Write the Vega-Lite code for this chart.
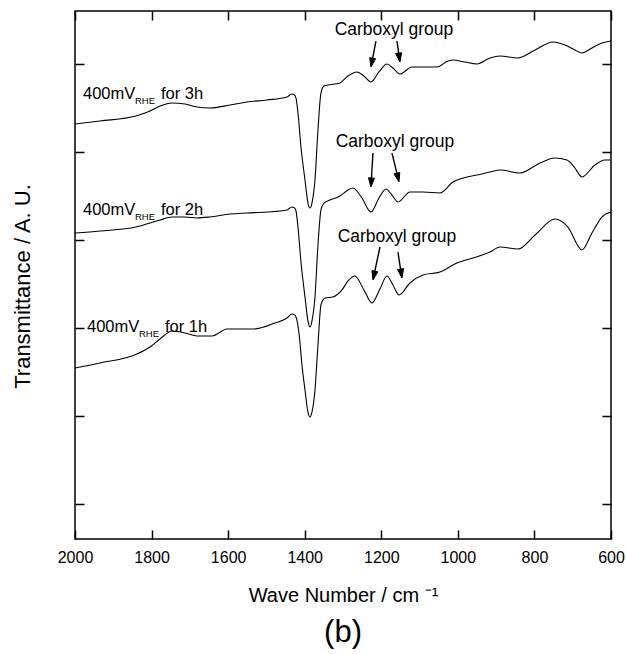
{
  "$schema": "https://vega.github.io/schema/vega-lite/v6.json",
  "width": 536,
  "height": 528,
  "autosize": {"type": "none"},
  "padding": {"left": 75, "top": 11, "right": 15, "bottom": 115},
  "background": "white",
  "config": {
    "view": {"stroke": "black", "strokeWidth": 1.5},
    "font": "Liberation Sans",
    "axis": {"domain": false, "grid": false, "tickColor": "black", "tickWidth": 1.5, "labelFont": "Liberation Sans", "labelFontSize": 16, "labelColor": "black", "titleFont": "Liberation Sans", "titleFontSize": 20, "titleFontWeight": "normal", "titleColor": "black", "labelFlush": false, "labelOverlap": false}
  },
  "title": {"text": "(b)", "orient": "bottom", "fontSize": 31, "fontWeight": "normal", "font": "Liberation Sans", "color": "black", "offset": 13, "anchor": "middle"},
  "datasets": {
    "curves": [
      {"series": "3h", "wn": 2000.0, "val": 4.716}, {"series": "3h", "wn": 1934.7, "val": 4.750}, {"series": "3h", "wn": 1840.7, "val": 4.807}, {"series": "3h", "wn": 1804.1, "val": 4.864}, {"series": "3h", "wn": 1778.0, "val": 4.920}, {"series": "3h", "wn": 1746.7, "val": 4.955}, {"series": "3h", "wn": 1712.7, "val": 4.943}, {"series": "3h", "wn": 1681.4, "val": 4.909}, {"series": "3h", "wn": 1647.4, "val": 4.898}, {"series": "3h", "wn": 1595.2, "val": 4.932}, {"series": "3h", "wn": 1550.8, "val": 4.966}, {"series": "3h", "wn": 1498.6, "val": 4.989}, {"series": "3h", "wn": 1446.3, "val": 5.023}, {"series": "3h", "wn": 1433.3, "val": 5.057}, {"series": "3h", "wn": 1428.1, "val": 5.051}, {"series": "3h", "wn": 1422.8, "val": 5.011}, {"series": "3h", "wn": 1417.6, "val": 4.841}, {"series": "3h", "wn": 1409.8, "val": 4.455}, {"series": "3h", "wn": 1399.3, "val": 4.080}, {"series": "3h", "wn": 1391.5, "val": 3.818}, {"series": "3h", "wn": 1386.3, "val": 3.761}, {"series": "3h", "wn": 1381.1, "val": 3.818}, {"series": "3h", "wn": 1373.2, "val": 4.080}, {"series": "3h", "wn": 1365.4, "val": 4.648}, {"series": "3h", "wn": 1357.6, "val": 5.068}, {"series": "3h", "wn": 1349.7, "val": 5.148}, {"series": "3h", "wn": 1339.3, "val": 5.159}, {"series": "3h", "wn": 1321.0, "val": 5.170}, {"series": "3h", "wn": 1308.0, "val": 5.182}, {"series": "3h", "wn": 1287.0, "val": 5.261}, {"series": "3h", "wn": 1263.5, "val": 5.307}, {"series": "3h", "wn": 1245.3, "val": 5.261}, {"series": "3h", "wn": 1227.0, "val": 5.193}, {"series": "3h", "wn": 1206.1, "val": 5.307}, {"series": "3h", "wn": 1185.2, "val": 5.398}, {"series": "3h", "wn": 1169.5, "val": 5.352}, {"series": "3h", "wn": 1151.2, "val": 5.284}, {"series": "3h", "wn": 1119.9, "val": 5.364}, {"series": "3h", "wn": 1091.1, "val": 5.364}, {"series": "3h", "wn": 1054.6, "val": 5.364}, {"series": "3h", "wn": 1025.9, "val": 5.432}, {"series": "3h", "wn": 1012.8, "val": 5.443}, {"series": "3h", "wn": 981.5, "val": 5.420}, {"series": "3h", "wn": 950.1, "val": 5.398}, {"series": "3h", "wn": 916.2, "val": 5.466}, {"series": "3h", "wn": 890.1, "val": 5.489}, {"series": "3h", "wn": 843.1, "val": 5.466}, {"series": "3h", "wn": 798.5, "val": 5.557}, {"series": "3h", "wn": 751.6, "val": 5.648}, {"series": "3h", "wn": 720.3, "val": 5.614}, {"series": "3h", "wn": 694.2, "val": 5.557}, {"series": "3h", "wn": 675.9, "val": 5.523}, {"series": "3h", "wn": 649.8, "val": 5.580}, {"series": "3h", "wn": 623.7, "val": 5.636}, {"series": "3h", "wn": 600.0, "val": 5.659},
      {"series": "2h", "wn": 2000.0, "val": 3.477}, {"series": "2h", "wn": 1934.7, "val": 3.500}, {"series": "2h", "wn": 1840.7, "val": 3.545}, {"series": "2h", "wn": 1804.1, "val": 3.591}, {"series": "2h", "wn": 1778.0, "val": 3.625}, {"series": "2h", "wn": 1746.7, "val": 3.659}, {"series": "2h", "wn": 1712.7, "val": 3.659}, {"series": "2h", "wn": 1681.4, "val": 3.648}, {"series": "2h", "wn": 1647.4, "val": 3.659}, {"series": "2h", "wn": 1595.2, "val": 3.693}, {"series": "2h", "wn": 1550.8, "val": 3.705}, {"series": "2h", "wn": 1498.6, "val": 3.716}, {"series": "2h", "wn": 1446.3, "val": 3.739}, {"series": "2h", "wn": 1433.3, "val": 3.773}, {"series": "2h", "wn": 1428.1, "val": 3.767}, {"series": "2h", "wn": 1422.8, "val": 3.727}, {"series": "2h", "wn": 1417.6, "val": 3.545}, {"series": "2h", "wn": 1409.8, "val": 3.148}, {"series": "2h", "wn": 1399.3, "val": 2.750}, {"series": "2h", "wn": 1391.5, "val": 2.477}, {"series": "2h", "wn": 1386.3, "val": 2.409}, {"series": "2h", "wn": 1381.1, "val": 2.477}, {"series": "2h", "wn": 1373.2, "val": 2.750}, {"series": "2h", "wn": 1365.4, "val": 3.341}, {"series": "2h", "wn": 1357.6, "val": 3.739}, {"series": "2h", "wn": 1349.7, "val": 3.818}, {"series": "2h", "wn": 1334.1, "val": 3.852}, {"series": "2h", "wn": 1308.0, "val": 3.898}, {"series": "2h", "wn": 1287.0, "val": 3.966}, {"series": "2h", "wn": 1274.0, "val": 3.989}, {"series": "2h", "wn": 1250.5, "val": 3.875}, {"series": "2h", "wn": 1227.0, "val": 3.716}, {"series": "2h", "wn": 1206.1, "val": 3.875}, {"series": "2h", "wn": 1187.8, "val": 3.977}, {"series": "2h", "wn": 1172.1, "val": 3.909}, {"series": "2h", "wn": 1156.5, "val": 3.830}, {"series": "2h", "wn": 1125.1, "val": 3.943}, {"series": "2h", "wn": 1091.1, "val": 3.943}, {"series": "2h", "wn": 1046.7, "val": 3.932}, {"series": "2h", "wn": 1012.8, "val": 4.057}, {"series": "2h", "wn": 976.2, "val": 4.114}, {"series": "2h", "wn": 950.1, "val": 4.136}, {"series": "2h", "wn": 916.2, "val": 4.170}, {"series": "2h", "wn": 890.1, "val": 4.193}, {"series": "2h", "wn": 837.8, "val": 4.159}, {"series": "2h", "wn": 785.6, "val": 4.273}, {"series": "2h", "wn": 746.4, "val": 4.330}, {"series": "2h", "wn": 715.1, "val": 4.307}, {"series": "2h", "wn": 694.2, "val": 4.216}, {"series": "2h", "wn": 675.9, "val": 4.114}, {"series": "2h", "wn": 642.0, "val": 4.250}, {"series": "2h", "wn": 615.9, "val": 4.307}, {"series": "2h", "wn": 600.0, "val": 4.307},
      {"series": "1h", "wn": 2000.0, "val": 1.943}, {"series": "1h", "wn": 1934.7, "val": 2.000}, {"series": "1h", "wn": 1838.1, "val": 2.102}, {"series": "1h", "wn": 1804.1, "val": 2.182}, {"series": "1h", "wn": 1778.0, "val": 2.273}, {"series": "1h", "wn": 1746.7, "val": 2.364}, {"series": "1h", "wn": 1712.7, "val": 2.341}, {"series": "1h", "wn": 1681.4, "val": 2.307}, {"series": "1h", "wn": 1642.2, "val": 2.307}, {"series": "1h", "wn": 1603.0, "val": 2.386}, {"series": "1h", "wn": 1535.1, "val": 2.386}, {"series": "1h", "wn": 1477.7, "val": 2.455}, {"series": "1h", "wn": 1446.3, "val": 2.511}, {"series": "1h", "wn": 1433.3, "val": 2.557}, {"series": "1h", "wn": 1428.1, "val": 2.551}, {"series": "1h", "wn": 1422.8, "val": 2.523}, {"series": "1h", "wn": 1415.0, "val": 2.341}, {"series": "1h", "wn": 1407.2, "val": 1.977}, {"series": "1h", "wn": 1399.3, "val": 1.693}, {"series": "1h", "wn": 1391.5, "val": 1.443}, {"series": "1h", "wn": 1386.3, "val": 1.386}, {"series": "1h", "wn": 1381.1, "val": 1.443}, {"series": "1h", "wn": 1373.2, "val": 1.693}, {"series": "1h", "wn": 1365.4, "val": 2.205}, {"series": "1h", "wn": 1357.6, "val": 2.659}, {"series": "1h", "wn": 1347.1, "val": 2.739}, {"series": "1h", "wn": 1326.4, "val": 2.750}, {"series": "1h", "wn": 1302.7, "val": 2.830}, {"series": "1h", "wn": 1287.0, "val": 2.932}, {"series": "1h", "wn": 1268.8, "val": 2.989}, {"series": "1h", "wn": 1245.3, "val": 2.830}, {"series": "1h", "wn": 1224.4, "val": 2.682}, {"series": "1h", "wn": 1203.5, "val": 2.841}, {"series": "1h", "wn": 1185.2, "val": 2.989}, {"series": "1h", "wn": 1169.5, "val": 2.886}, {"series": "1h", "wn": 1153.8, "val": 2.773}, {"series": "1h", "wn": 1125.1, "val": 2.909}, {"series": "1h", "wn": 1091.1, "val": 3.000}, {"series": "1h", "wn": 1046.7, "val": 3.034}, {"series": "1h", "wn": 1002.3, "val": 3.136}, {"series": "1h", "wn": 960.6, "val": 3.193}, {"series": "1h", "wn": 916.2, "val": 3.261}, {"series": "1h", "wn": 890.1, "val": 3.318}, {"series": "1h", "wn": 843.1, "val": 3.295}, {"series": "1h", "wn": 798.5, "val": 3.455}, {"series": "1h", "wn": 746.4, "val": 3.636}, {"series": "1h", "wn": 712.5, "val": 3.545}, {"series": "1h", "wn": 675.9, "val": 3.284}, {"series": "1h", "wn": 649.8, "val": 3.477}, {"series": "1h", "wn": 623.7, "val": 3.659}, {"series": "1h", "wn": 600.0, "val": 3.716}
    ],
    "labels": [
      {"kind": "main", "wn": 1979.1, "val": 5.0, "text": "400mV"},
      {"kind": "sub", "wn": 1843.3, "val": 4.943, "text": "RHE"},
      {"kind": "main", "wn": 1775.4, "val": 5.0, "text": "for 3h"},
      {"kind": "main", "wn": 1979.1, "val": 3.682, "text": "400mV"},
      {"kind": "sub", "wn": 1843.3, "val": 3.625, "text": "RHE"},
      {"kind": "main", "wn": 1775.4, "val": 3.682, "text": "for 2h"},
      {"kind": "main", "wn": 1968.7, "val": 2.352, "text": "400mV"},
      {"kind": "sub", "wn": 1832.9, "val": 2.295, "text": "RHE"},
      {"kind": "main", "wn": 1764.9, "val": 2.352, "text": "for 1h"}
    ],
    "carboxyl": [
      {"wn": 1166.9, "val": 5.727, "text": "Carboxyl group"},
      {"wn": 1164.3, "val": 4.455, "text": "Carboxyl group"},
      {"wn": 1159.0, "val": 3.375, "text": "Carboxyl group"}
    ],
    "shafts": [
      {"wn": 1213.9, "val": 5.659, "wn2": 1222.5, "val2": 5.464},
      {"wn": 1159.1, "val": 5.659, "wn2": 1154.6, "val2": 5.522},
      {"wn": 1221.7, "val": 4.386, "wn2": 1225.7, "val2": 4.102},
      {"wn": 1172.1, "val": 4.386, "wn2": 1159.3, "val2": 4.157},
      {"wn": 1203.5, "val": 3.318, "wn2": 1216.8, "val2": 3.043},
      {"wn": 1156.5, "val": 3.261, "wn2": 1149.7, "val2": 3.067}
    ],
    "heads": [
      {"arrow": "a1", "ord": 1, "wn": 1214.9, "val": 5.457}, {"arrow": "a1", "ord": 2, "wn": 1227.0, "val": 5.364}, {"arrow": "a1", "ord": 3, "wn": 1230.1, "val": 5.470},
      {"arrow": "a2", "ord": 1, "wn": 1146.8, "val": 5.526}, {"arrow": "a2", "ord": 2, "wn": 1151.2, "val": 5.420}, {"arrow": "a2", "ord": 3, "wn": 1162.5, "val": 5.517},
      {"arrow": "b1", "ord": 1, "wn": 1217.8, "val": 4.100}, {"arrow": "b1", "ord": 2, "wn": 1227.0, "val": 4.000}, {"arrow": "b1", "ord": 3, "wn": 1233.5, "val": 4.105},
      {"arrow": "b2", "ord": 1, "wn": 1151.7, "val": 4.165}, {"arrow": "b2", "ord": 2, "wn": 1153.8, "val": 4.057}, {"arrow": "b2", "ord": 3, "wn": 1166.9, "val": 4.149},
      {"arrow": "c1", "ord": 1, "wn": 1209.2, "val": 3.036}, {"arrow": "c1", "ord": 2, "wn": 1221.7, "val": 2.943}, {"arrow": "c1", "ord": 3, "wn": 1224.4, "val": 3.050},
      {"arrow": "c2", "ord": 1, "wn": 1141.8, "val": 3.073}, {"arrow": "c2", "ord": 2, "wn": 1146.0, "val": 2.966}, {"arrow": "c2", "ord": 3, "wn": 1157.5, "val": 3.061}
    ]
  },
  "layer": [
    {
      "data": {"name": "curves"},
      "mark": {"type": "line", "interpolate": "monotone", "color": "black", "strokeWidth": 1.1},
      "encoding": {
        "x": {"field": "wn", "type": "quantitative", "scale": {"domain": [600, 2000], "reverse": true, "nice": false, "zero": false},
              "axis": {"orient": "bottom", "values": [600, 800, 1000, 1200, 1400, 1600, 1800, 2000], "format": "d", "tickSize": -9, "labelPadding": 19, "title": "Wave Number / cm ⁻¹", "titlePadding": 20}},
        "y": {"field": "val", "type": "quantitative", "scale": {"domain": [0, 6], "nice": false, "zero": false},
              "axis": {"orient": "left", "values": [0.4, 1.4, 2.4, 3.4, 4.4, 5.4], "labels": false, "tickSize": -9, "title": "Transmittance / A. U.", "titleFontSize": 22, "titlePadding": 40, "titleY": 275}},
        "detail": {"field": "series"}
      }
    },
    {
      "data": {"name": "labels"},
      "transform": [{"filter": "datum.kind === 'main'"}],
      "mark": {"type": "text", "align": "left", "baseline": "alphabetic", "fontSize": 16.5, "color": "black", "font": "Liberation Sans"},
      "encoding": {
        "x": {"field": "wn", "type": "quantitative", "axis": {"orient": "top", "values": [600, 800, 1000, 1200, 1400, 1600, 1800, 2000], "labels": false, "tickSize": -9, "title": null}},
        "y": {"field": "val", "type": "quantitative", "axis": {"orient": "right", "values": [0.4, 1.4, 2.4, 3.4, 4.4, 5.4], "labels": false, "tickSize": -9, "title": null}},
        "text": {"field": "text"}
      }
    },
    {
      "data": {"name": "labels"},
      "transform": [{"filter": "datum.kind === 'sub'"}],
      "mark": {"type": "text", "align": "left", "baseline": "alphabetic", "fontSize": 9.5, "color": "black", "font": "Liberation Sans"},
      "encoding": {
        "x": {"field": "wn", "type": "quantitative", "axis": null},
        "y": {"field": "val", "type": "quantitative", "axis": null},
        "text": {"field": "text"}
      }
    },
    {
      "data": {"name": "carboxyl"},
      "mark": {"type": "text", "align": "center", "baseline": "alphabetic", "fontSize": 17.5, "color": "black", "font": "Liberation Sans"},
      "encoding": {
        "x": {"field": "wn", "type": "quantitative", "axis": null},
        "y": {"field": "val", "type": "quantitative", "axis": null},
        "text": {"field": "text"}
      }
    },
    {
      "data": {"name": "shafts"},
      "mark": {"type": "rule", "color": "black", "strokeWidth": 1.4},
      "encoding": {
        "x": {"field": "wn", "type": "quantitative", "axis": null},
        "y": {"field": "val", "type": "quantitative", "axis": null},
        "x2": {"field": "wn2"},
        "y2": {"field": "val2"}
      }
    },
    {
      "data": {"name": "heads"},
      "mark": {"type": "line", "color": "black", "fill": "black", "strokeWidth": 1, "interpolate": "linear-closed"},
      "encoding": {
        "x": {"field": "wn", "type": "quantitative", "axis": null},
        "y": {"field": "val", "type": "quantitative", "axis": null},
        "detail": {"field": "arrow"},
        "order": {"field": "ord"}
      }
    }
  ],
  "resolve": {"axis": {"x": "independent", "y": "independent"}}
}
